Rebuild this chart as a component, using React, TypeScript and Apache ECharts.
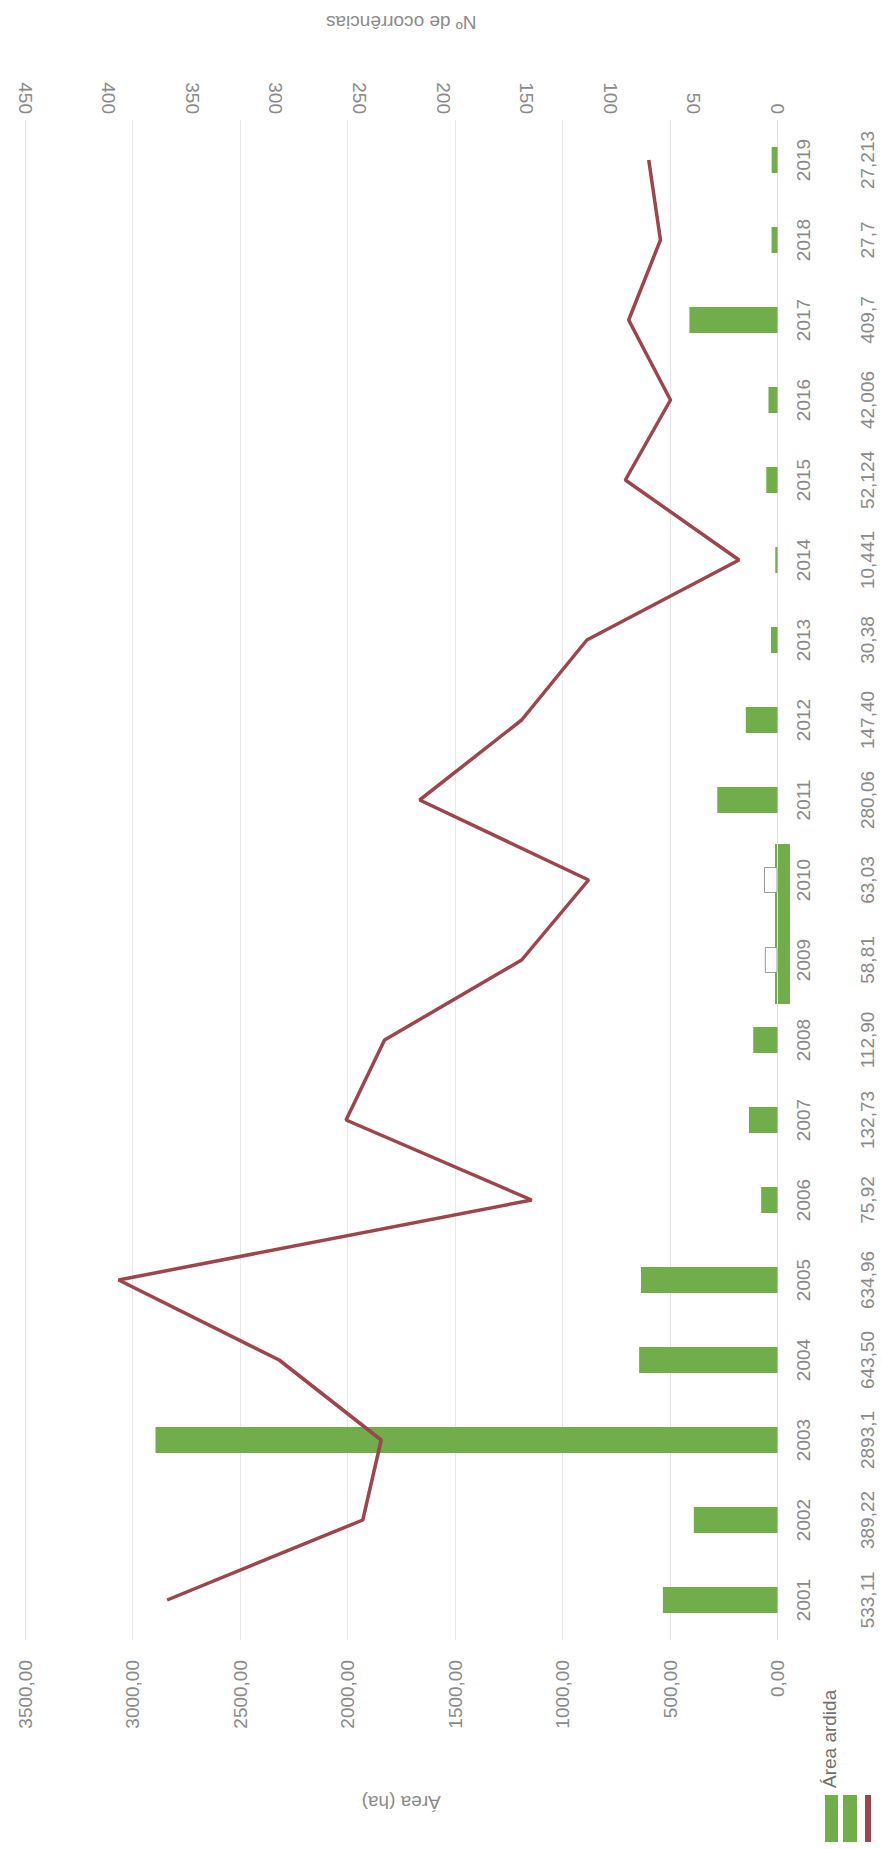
import React, { useEffect, useRef } from "react";
import * as echarts from "echarts";

const years = ["2001","2002","2003","2004","2005","2006","2007","2008","2009","2010","2011","2012","2013","2014","2015","2016","2017","2018","2019"];
const areaArdida = [533.11, 389.22, 2893.1, 643.5, 634.96, 75.92, 132.73, 112.9, 58.81, 63.03, 280.06, 147.4, 30.38, 10.441, 52.124, 42.006, 409.7, 27.7, 27.213];
const areaTableLabels = ["533,11","389,22","2893,1","643,50","634,96","75,92","132,73","112,90","58,81","63,03","280,06","147,40","30,38","10,441","52,124","42,006","409,7","27,7","27,213"];
const ocorrencias = [365, 248, 237, 298, 394, 147, 258, 235, 153, 113, 214, 153, 114, 23, 91, 64, 89, 70, 77];
const outlinedYears = ["2009", "2010"];

const GREEN = "#72ad4c";
const RED = "#9e444b";
const GRAY = "#8a8a8a";
const FONT = "Liberation Sans";

export default function App() {
  const ref = useRef<HTMLDivElement>(null);
  useEffect(() => {
    if (!ref.current) return;
    const chart = echarts.init(ref.current, null, { renderer: "svg" });
    const barData = areaArdida.map((v, i) =>
      outlinedYears.includes(years[i])
        ? { value: v, itemStyle: { color: "#ffffff", borderColor: "#9a9a9a", borderWidth: 1 } }
        : v
    );
    chart.setOption({
      animation: false,
      backgroundColor: "#ffffff",
      textStyle: { fontFamily: FONT },
      grid: { left: 25, right: 104.5, top: 120, bottom: 209, containLabel: false },
      xAxis: [
        {
          type: "value",
          position: "bottom",
          inverse: true,
          min: 0,
          max: 3500,
          interval: 500,
          name: "Área (ha)",
          nameLocation: "middle",
          nameGap: 153,
          nameRotate: 180,
          nameTextStyle: { color: GRAY, fontSize: 19, fontFamily: FONT },
          axisLine: { show: false },
          axisTick: { show: false },
          axisLabel: {
            rotate: 90,
            margin: 20,
            color: GRAY,
            fontSize: 19,
            fontFamily: FONT,
            formatter: (v: number) => v.toFixed(2).replace(".", ","),
          },
          splitLine: { show: true, lineStyle: { color: "#e8e8e8", width: 1 } },
        },
        {
          type: "value",
          position: "top",
          inverse: true,
          min: 0,
          max: 450,
          interval: 50,
          name: "Nº de ocorrências",
          nameLocation: "middle",
          nameGap: 88,
          nameRotate: 180,
          nameTextStyle: { color: GRAY, fontSize: 19, fontFamily: FONT },
          axisLine: { show: false },
          axisTick: { show: false },
          axisLabel: { rotate: 90, margin: 6, color: GRAY, fontSize: 19, fontFamily: FONT },
          splitLine: { show: false },
        },
      ],
      yAxis: [
        {
          type: "category",
          position: "right",
          data: years,
          axisLine: { show: true, lineStyle: { color: "#e2e2e2" } },
          axisTick: { show: false },
          axisLabel: { rotate: 90, margin: 16, color: GRAY, fontSize: 19, fontFamily: FONT },
        },
        {
          type: "category",
          position: "right",
          data: areaTableLabels,
          axisLine: { show: false },
          axisTick: { show: false },
          axisLabel: { rotate: 90, margin: 80, color: GRAY, fontSize: 19, fontFamily: FONT },
        },
      ],
      graphic: [
        { type: "rect", shape: { x: 775, y: 844, width: 15, height: 160 }, style: { fill: GREEN } },
        {
          type: "text",
          x: 820,
          y: 1788,
          rotation: Math.PI / 2,
          style: { text: "Área ardida", fill: "#6f6f6f", fontSize: 19, fontFamily: FONT, textAlign: "left", textVerticalAlign: "top" },
        },
        { type: "rect", shape: { x: 825, y: 1795, width: 13, height: 47 }, style: { fill: GREEN } },
        { type: "rect", shape: { x: 843, y: 1795, width: 14, height: 47 }, style: { fill: GREEN } },
        { type: "rect", shape: { x: 865, y: 1795, width: 6, height: 47 }, style: { fill: RED } },
      ],
      series: [
        {
          name: "Área ardida",
          type: "bar",
          xAxisIndex: 0,
          yAxisIndex: 0,
          data: barData,
          barWidth: 26,
          itemStyle: { color: GREEN },
          z: 2,
        },
        {
          name: "Nº de ocorrências",
          type: "line",
          xAxisIndex: 1,
          yAxisIndex: 0,
          data: ocorrencias,
          showSymbol: false,
          symbol: "none",
          lineStyle: { color: RED, width: 3.5 },
          z: 3,
        },
      ],
    });
    return () => chart.dispose();
  }, []);
  return (
    <div
      ref={ref}
      style={{ position: "absolute", left: 0, top: 0, width: 882, height: 1849, background: "#fff" }}
    />
  );
}
